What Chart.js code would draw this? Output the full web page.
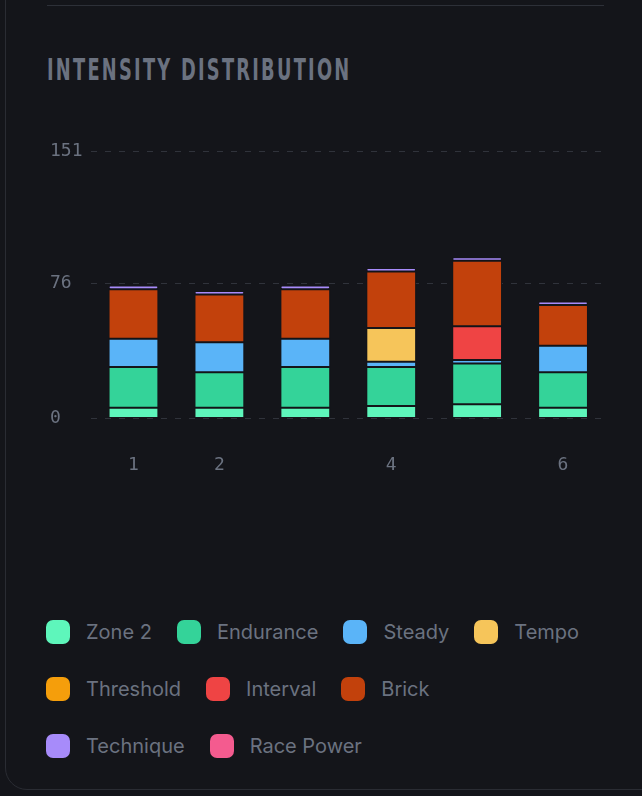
<!DOCTYPE html>
<html><head><meta charset="utf-8">
<script src="https://cdn.jsdelivr.net/npm/chart.js@4.4.1/dist/chart.umd.min.js"></script>
<style>
html,body{margin:0;padding:0;background:#14151a;width:642px;height:796px;overflow:hidden;font-family:Inter,sans-serif}
#card{position:absolute;left:5px;top:-30px;width:700px;height:820px;border:1px solid #2a2c33;border-radius:22px;box-sizing:border-box;background:#14151a}
#topline{position:absolute;left:47px;top:5px;width:557px;height:1px;background:#2d3038}
#title{position:absolute;left:47px;top:52px;font-family:"Liberation Sans Narrow","DejaVu Sans Condensed",sans-serif;font-weight:bold;font-size:30px;letter-spacing:3.4px;color:#6b7280;transform:scaleX(0.66);transform-origin:left;white-space:nowrap}
#wrap{position:absolute;left:0;top:0;width:642px;height:527px}
#legend{position:absolute;left:46px;top:620px;width:590px}
.row{display:flex;height:24px;margin-bottom:33px}
.item{display:flex;align-items:center;margin-right:25px;height:24px;font-size:20px;color:#6b7280}
.sw{width:24px;height:24px;border-radius:7px;margin-right:16px}
</style></head><body>
<div id="card"></div>
<div id="topline"></div>
<div id="title">INTENSITY DISTRIBUTION</div>
<div id="wrap"><canvas id="c"></canvas></div>
<div id="legend"></div>
<script>
const categories = ['1','2','3','4','5','6'];
const tickLabels = ['1','2','','4','','6'];
const yTicks = [0,76,151];
const seriesNames = ['Zone 2','Endurance','Steady','Tempo','Threshold','Interval','Brick','Technique','Race Power'];
const seriesColors = ['#5ef6bb','#34d399','#5ab4f8','#f6c55a','#f59e0b','#ef4444','#c2410c','#a78bfa','#f45b8f'];
const zone2     = [6,6,6,7,8,6];
const endurance = [23,20,23,22,23,20];
const steady    = [16,17,16,3,2,15];
const tempo     = [0,0,0,19,0,0];
const threshold = [0,0,0,0,0,0];
const interval  = [0,0,0,0,19,0];
const brick     = [28,27,28,32,37,23];
const technique = [2,2,2,2,2,2];
const racePower = [0,0,0,0,0,0];
const seriesValues = [zone2,endurance,steady,tempo,threshold,interval,brick,technique,racePower];
const legendRows = [[0,1,2,3],[4,5,6],[7,8]];

const datasets = seriesNames.map((n,i)=>({
  label:n,data:seriesValues[i],backgroundColor:seriesColors[i],
  borderColor:'#14151a',borderWidth:1,borderRadius:4,borderSkipped:false,
  categoryPercentage:1,barPercentage:0.58,stack:'s'
}));
new Chart(document.getElementById('c'),{
  type:'bar',data:{labels:categories,datasets},
  options:{responsive:true,maintainAspectRatio:false,animation:false,
    layout:{padding:{left:50,right:36,top:151,bottom:23}},
    plugins:{legend:{display:false},tooltip:{enabled:false}},
    scales:{
      x:{stacked:true,grid:{display:false},border:{display:false},
        ticks:{padding:28,color:'#6b7280',font:{family:'DejaVu Sans Mono',size:18},callback:(v,i)=>tickLabels[i]}},
      y:{stacked:true,min:0,max:151,border:{display:false,dash:[6,8]},
        grid:{color:'#30333b',drawTicks:false,lineWidth:1},
        afterBuildTicks:a=>{a.ticks=yTicks.map(v=>({value:v}));},
        ticks:{padding:4,crossAlign:'far',color:'#6b7280',font:{family:'DejaVu Sans Mono',size:18}}}
    }}
});
const lg=document.getElementById('legend');
legendRows.forEach(r=>{
  const row=document.createElement('div');row.className='row';
  r.forEach(i=>{
    const d=document.createElement('div');d.className='item';
    d.innerHTML='<span class="sw" style="background:'+seriesColors[i]+'"></span>'+seriesNames[i];
    row.appendChild(d);
  });
  lg.appendChild(row);
});
</script>
</body></html>
